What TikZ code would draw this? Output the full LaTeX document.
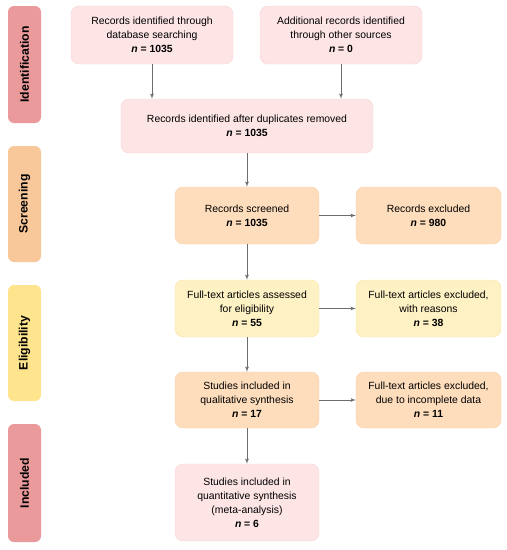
\documentclass[tikz,border=0pt]{standalone}
\usepackage{tikz}
\usetikzlibrary{arrows}
\usepackage{xcolor}
\usepackage{fontspec}
\setmainfont{Liberation Sans}

\definecolor{stagered}{HTML}{EB9A9C}
\definecolor{stageorange}{HTML}{F8C89A}
\definecolor{stageyellow}{HTML}{FEE48C}
\definecolor{boxpink}{HTML}{FDE5E6}
\definecolor{linepink}{HTML}{FAD3D5}
\definecolor{boxorange}{HTML}{FEDDBC}
\definecolor{lineorange}{HTML}{FBD0A8}
\definecolor{boxyellow}{HTML}{FEF1C4}
\definecolor{lineyellow}{HTML}{FCE6A6}
\definecolor{arrowgray}{HTML}{6D6D6D}

\newcommand{\nval}[1]{\textbf{\textit{n} = #1}}

\begin{document}
\begin{tikzpicture}[x=1pt,y=-1pt]
    
    \tikzset{box/.style = {shape=rectangle,rounded corners=8pt,align=center,
        font=\fontsize{10.4}{14}\selectfont,inner sep=2pt}}
    \tikzset{pinkbox/.style = {box,fill=boxpink,draw=linepink}}
    \tikzset{orangebox/.style = {box,fill=boxorange,draw=lineorange}}
    \tikzset{yellowbox/.style = {box,fill=boxyellow,draw=lineyellow}}
    \tikzset{stage/.style = {shape=rectangle,rounded corners=6pt,minimum width=33pt,
        rotate=90,font=\fontsize{12.2}{14}\selectfont\bfseries,inner sep=0pt}}
    \tikzset{edge/.style = {->,> = latex',draw=arrowgray,line width=0.8pt}}
    \useasboundingbox (0,0) rectangle (507,550);
    %stages
    \node[stage,fill=stagered,minimum width=117pt,minimum height=33pt] (S1) at (24.5,64.5) {Identification};
    \node[stage,fill=stageorange,minimum width=116pt,minimum height=33pt] (S2) at (24.5,204) {Screening};
    \node[stage,fill=stageyellow,minimum width=116pt,minimum height=33pt] (S3) at (24.5,343) {Eligibility};
    \node[stage,fill=stagered,minimum width=118pt,minimum height=33pt] (S4) at (24.5,483) {Included};
    %boxes
    \node[pinkbox,minimum width=162pt,minimum height=58pt] (A) at (152,35) {Records identified through\\database searching\\\nval{1035}};
    \node[pinkbox,minimum width=162pt,minimum height=58pt] (B) at (341,35) {Additional records identified\\through other sources\\\nval{0}};
    \node[pinkbox,minimum width=252pt,minimum height=54pt] (C) at (247,126) {Records identified after duplicates removed\\\nval{1035}};
    \node[orangebox,minimum width=144pt,minimum height=57pt] (D) at (247,215.5) {Records screened\\\nval{1035}};
    \node[orangebox,minimum width=145pt,minimum height=57pt] (E) at (428.5,215.5) {Records excluded\\\nval{980}};
    \node[yellowbox,minimum width=144pt,minimum height=57pt] (F) at (247,308.5) {Full-text articles assessed\\for eligibility\\\nval{55}};
    \node[yellowbox,minimum width=145pt,minimum height=57pt] (G) at (428.5,308.5) {Full-text articles excluded,\\with reasons\\\nval{38}};
    \node[orangebox,minimum width=144pt,minimum height=56pt] (H) at (247,400) {Studies included in\\qualitative synthesis\\\nval{17}};
    \node[orangebox,minimum width=145pt,minimum height=56pt] (I) at (428.5,400) {Full-text articles excluded,\\due to incomplete data\\\nval{11}};
    \node[pinkbox,minimum width=144pt,minimum height=77pt] (J) at (247,502.5) {Studies included in\\quantitative synthesis\\(meta-analysis)\\\nval{6}};
    %edges
    \draw[edge] (A) to (A |- C.north);
    \draw[edge] (B) to (B |- C.north);
    \draw[edge] (C) to (D);
    \draw[edge] (D) to (E);
    \draw[edge] (D) to (F);
    \draw[edge] (F) to (G);
    \draw[edge] (F) to (H);
    \draw[edge] (H) to (I);
    \draw[edge] (H) to (J);
\end{tikzpicture}
\end{document}
